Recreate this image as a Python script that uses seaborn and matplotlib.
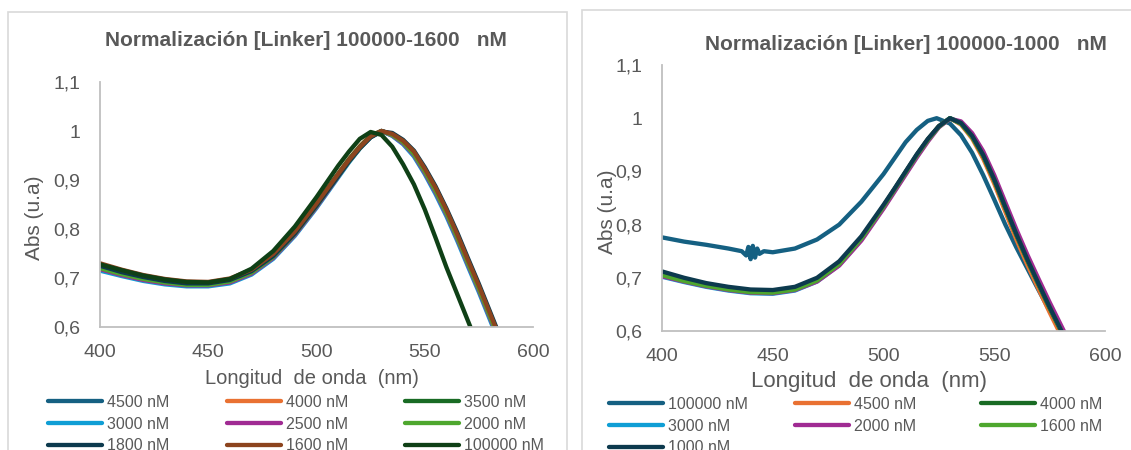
import matplotlib
matplotlib.use("Agg")
import matplotlib.pyplot as plt
import seaborn as sns
from matplotlib.patches import Rectangle
from matplotlib.ticker import FuncFormatter

# Wavelength grid (nm) shared by most series
wl = [400, 410, 420, 430, 440, 450, 460, 470, 480, 490, 500, 505, 510, 515, 520,
      525, 530, 535, 540, 545, 550, 555, 560, 565, 570, 575, 580, 585, 590]

# Left chart: [Linker] 100000-1600 nM
left_labels = ["4500 nM", "4000 nM", "3500 nM", "3000 nM", "2500 nM",
               "2000 nM", "1800 nM", "1600 nM", "100000 nM"]
l_4500 = [.722, .710, .700, .693, .688, .688, .695, .714, .746, .793, .850, .880, .910, .940, .967,
          .989, 1.000, .993, .978, .955, .920, .880, .835, .785, .732, .680, .625, .570, .515]
l_4000 = [.724, .712, .702, .694, .689, .689, .696, .715, .748, .796, .853, .883, .913, .943, .969,
          .991, 1.000, .991, .975, .951, .916, .876, .831, .781, .728, .676, .621, .566, .511]
l_3500 = [.726, .713, .703, .695, .690, .690, .697, .716, .748, .795, .852, .882, .912, .942, .968,
          .990, 1.000, .992, .976, .953, .918, .878, .833, .783, .730, .678, .623, .568, .513]
l_3000 = [.715, .704, .694, .687, .683, .683, .689, .707, .739, .786, .843, .874, .905, .936, .964,
          .987, 1.000, .990, .973, .948, .912, .871, .826, .776, .723, .671, .616, .561, .506]
l_2500 = [.718, .706, .696, .689, .685, .685, .691, .709, .741, .788, .845, .876, .907, .938, .965,
          .988, 1.000, .991, .975, .951, .915, .875, .830, .780, .727, .675, .620, .565, .510]
l_2000 = [.720, .708, .698, .691, .686, .686, .693, .711, .743, .790, .847, .878, .908, .938, .965,
          .988, 1.000, .992, .977, .953, .918, .878, .833, .783, .730, .678, .623, .568, .513]
l_1800 = [.725, .712, .702, .694, .689, .689, .696, .714, .745, .791, .848, .878, .908, .938, .965,
          .987, .999, .996, .982, .960, .926, .887, .842, .793, .740, .688, .633, .578, .523]
l_1600 = [.730, .717, .706, .698, .693, .692, .699, .717, .749, .795, .852, .882, .912, .941, .967,
          .989, 1.000, .994, .980, .958, .923, .884, .839, .789, .736, .684, .629, .574, .519]
l_100000 = [.728, .716, .705, .697, .692, .691, .698, .719, .755, .805, .865, .897, .929, .958, .984,
            .998, .992, .968, .932, .891, .840, .782, .722, .667, .612, .557, .500, .445, .390]
left_series = [l_4500, l_4000, l_3500, l_3000, l_2500, l_2000, l_1800, l_1600, l_100000]

# Right chart: [Linker] 100000-1000 nM
right_labels = ["100000 nM", "4500 nM", "4000 nM", "3000 nM", "2000 nM", "1600 nM", "1000 nM"]
wl_r_100000 = [400, 410, 420, 430, 436, 438, 439, 440, 441, 442, 443, 444, 446, 450, 460, 470,
               480, 490, 500, 505, 510, 515, 520, 524, 530, 535, 540, 545, 550, 555, 560, 565,
               570, 575, 580, 585, 590]
r_100000 = [.776, .768, .762, .755, .750, .742, .758, .735, .760, .738, .755, .745, .750, .748, .755, .772,
            .800, .843, .895, .925, .955, .978, .995, 1.000, .990, .968, .935, .893, .847, .800, .757, .717,
            .677, .638, .600, .562, .524]
r_4500 = [.705, .694, .685, .678, .673, .672, .678, .695, .726, .774, .834, .866, .898, .930, .960,
          .985, 1.000, .988, .962, .924, .877, .824, .772, .724, .679, .635, .593, .551, .509]
r_4000 = [.706, .695, .686, .679, .674, .673, .679, .696, .727, .775, .835, .867, .899, .931, .960,
          .985, 1.000, .990, .965, .929, .883, .831, .780, .732, .687, .643, .601, .559, .517]
r_3000 = [.702, .692, .683, .676, .671, .670, .676, .693, .724, .772, .832, .864, .896, .928, .958,
          .984, 1.000, .991, .967, .932, .886, .835, .784, .736, .691, .647, .605, .563, .521]
r_2000 = [.703, .693, .684, .677, .672, .671, .677, .693, .723, .770, .830, .862, .894, .926, .956,
          .983, .999, .994, .972, .938, .893, .842, .791, .743, .698, .654, .612, .570, .528]
r_1600 = [.705, .694, .685, .678, .673, .672, .678, .695, .726, .774, .834, .866, .898, .930, .959,
          .984, 1.000, .990, .965, .930, .884, .832, .781, .733, .688, .644, .602, .560, .518]
r_1000 = [.712, .700, .690, .683, .678, .677, .683, .700, .731, .778, .837, .868, .900, .932, .961,
          .985, 1.000, .991, .967, .931, .885, .833, .782, .734, .689, .645, .603, .561, .519]
right_series = [r_100000, r_4500, r_4000, r_3000, r_2000, r_1600, r_1000]
right_x = [wl_r_100000, wl, wl, wl, wl, wl, wl]

left_colors = ["#156082", "#E97132", "#196B24", "#0F9ED5", "#A02B93",
               "#4EA72E", "#0D3A4E", "#8C441E", "#0F4016"]
right_colors = ["#156082", "#E97132", "#196B24", "#0F9ED5", "#A02B93", "#4EA72E", "#0D3A4E"]

GREY = "#595959"
sns.set_style("white")
plt.rcParams["font.family"] = ["Liberation Sans", "DejaVu Sans"]

W, H = 1131, 450
fig = plt.figure(figsize=(W / 100, H / 100), dpi=100)


def fx(px):
    return px / W


def fy(py):
    return 1 - py / H


def comma(v, pos):
    s = f"{v:.1f}".replace(".", ",")
    return s[:-2] if s.endswith(",0") else s


# chart area borders
fig.add_artist(Rectangle((fx(8), fy(470)), fx(567) - fx(8), fy(12) - fy(470), fill=False,
                         edgecolor="#D9D9D9", lw=1.2, transform=fig.transFigure))
fig.add_artist(Rectangle((fx(582), fy(470)), fx(1150) - fx(582), fy(10) - fy(470), fill=False,
                         edgecolor="#D9D9D9", lw=1.2, transform=fig.transFigure))


def draw_panel(box, xs, series, labels, colors, title, title_pos, xlab_pos, xlab_size,
               ylab_pos, leg_cols, leg_top):
    ax = fig.add_axes([fx(box[0]), fy(box[3]), fx(box[2]) - fx(box[0]), fy(box[1]) - fy(box[3])])
    for x, y, lab, col in zip(xs, series, labels, colors):
        sns.lineplot(x=x, y=y, ax=ax, color=col, linewidth=3.1, label=lab)
    handles, labs = ax.get_legend_handles_labels()
    if ax.get_legend() is not None:
        ax.get_legend().remove()
    ax.set_xlim(400, 600)
    ax.set_ylim(0.6, 1.1)
    ax.set_xticks([400, 450, 500, 550, 600])
    ax.set_yticks([0.6, 0.7, 0.8, 0.9, 1.0, 1.1])
    ax.yaxis.set_major_formatter(FuncFormatter(comma))
    ax.tick_params(axis="both", length=0, labelsize=14, labelcolor=GREY)
    ax.tick_params(axis="y", pad=14)
    ax.tick_params(axis="x", pad=12)
    ax.set_xlabel("")
    ax.set_ylabel("")
    for s in ["top", "right"]:
        ax.spines[s].set_visible(False)
    for s in ["left", "bottom"]:
        ax.spines[s].set_color("#BFBFBF")
        ax.spines[s].set_linewidth(1.3)
    fig.text(fx(title_pos[0]), fy(title_pos[1]), title, ha="center", va="center",
             fontsize=15, fontweight="bold", color=GREY)
    fig.text(fx(xlab_pos[0]), fy(xlab_pos[1]), "Longitud  de onda  (nm)", ha="center",
             va="center", fontsize=xlab_size, color=GREY)
    fig.text(fx(ylab_pos[0]), fy(ylab_pos[1]), "Abs (u.a)", ha="center", va="center",
             fontsize=15, color=GREY, rotation=90)
    # Excel-style legend, filled row by row
    for c, cx in enumerate(leg_cols):
        idx = list(range(c, len(handles), 3))
        fig.legend([handles[i] for i in idx], [labs[i] for i in idx], loc="upper left",
                   bbox_to_anchor=(fx(cx), fy(leg_top)), frameon=False, borderpad=0,
                   borderaxespad=0, handlelength=3.37, handletextpad=0.3, labelspacing=0.42,
                   fontsize=11.5, labelcolor=GREY)
    return ax


draw_panel((100, 82, 533, 327), [wl] * 9, left_series, left_labels, left_colors,
           "Normalización [Linker] 100000-1600   nM", (306, 41), (312, 378), 14.5, (35, 218),
           [48, 227, 405], 395)
draw_panel((662, 65, 1105, 331), right_x, right_series, right_labels, right_colors,
           "Normalización [Linker] 100000-1000   nM", (906, 44), (869, 382), 16, (607, 212),
           [609, 795, 981], 397)

fig.savefig("out.png", dpi=100)
